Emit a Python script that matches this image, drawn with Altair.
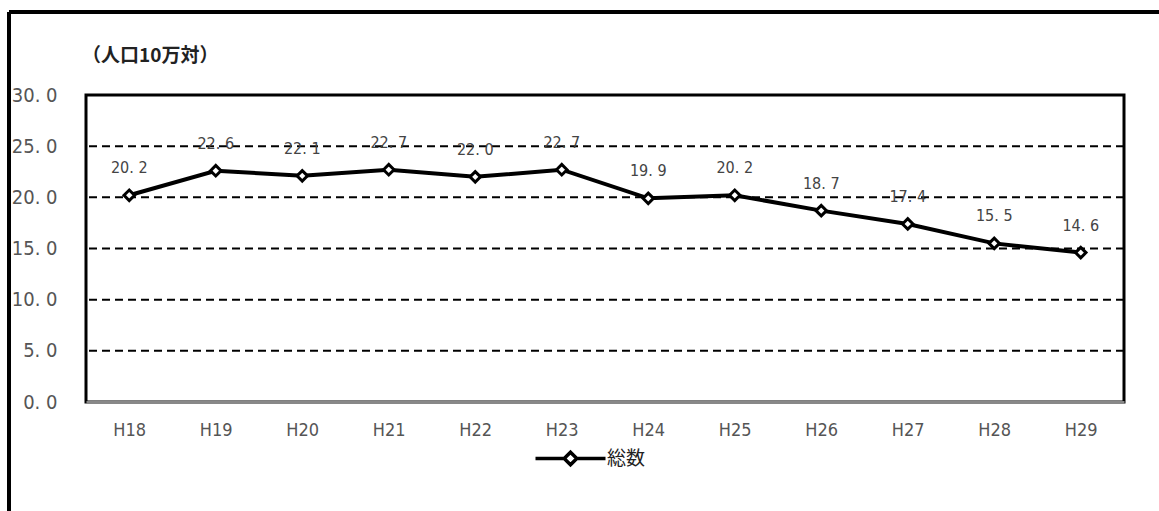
import altair as alt
import pandas as pd

years = ["H18", "H19", "H20", "H21", "H22", "H23", "H24", "H25", "H26", "H27", "H28", "H29"]
values = [20.2, 22.6, 22.1, 22.7, 22.0, 22.7, 19.9, 20.2, 18.7, 17.4, 15.5, 14.6]
series = ["総数"] * len(years)
grid_values = [5, 10, 15, 20, 25]

df = pd.DataFrame({"year": years, "value": values, "series": series})
df["label"] = df["value"].map(lambda v: f"{v:.1f}".replace(".", ". "))
grid_df = pd.DataFrame({"g": grid_values})

W, H = 1038, 307
LEFT, TOP = 86, 95
FONT = "DejaVu Sans Condensed, Roboto, sans-serif"

x_enc = alt.X("year:N", sort=years, scale=alt.Scale(paddingInner=0, paddingOuter=0.5),
              axis=alt.Axis(title=None, labelAngle=0, labelFontSize=18, labelColor="#555555",
                            labelFont=FONT, labelPadding=19, ticks=False,
                            domainColor="#888888", domainWidth=3, grid=False))
y_scale = alt.Scale(domain=[0, 30], nice=False)
y_axis = alt.Axis(title=None, values=[0, 5, 10, 15, 20, 25, 30], grid=False, ticks=False,
                  domain=False, labelFontSize=20, labelColor="#555555", labelFont=FONT,
                  labelPadding=29,
                  labelExpr="replace(format(datum.value, '.1f'), '.', '. ')")
y_enc = alt.Y("value:Q", scale=y_scale, axis=y_axis)

base = alt.Chart(df)

grid = alt.Chart(grid_df).mark_rule(color="black", strokeWidth=2, strokeDash=[8, 5]).encode(
    y=alt.Y("g:Q", scale=y_scale, axis=y_axis)
)

line = base.mark_line(color="black", strokeWidth=4).encode(
    x=x_enc, y=y_enc,
    color=alt.Color("series:N", scale=alt.Scale(range=["black"]),
                    legend=alt.Legend(title=None, orient="none", legendX=465, legendY=344,
                                      symbolType="M-2,0L-0.4,0M0.4,0L2,0M0,-0.36L0.36,0L0,0.36L-0.36,0Z",
                                      symbolSize=1225, symbolStrokeWidth=3.5, symbolFillColor="white",
                                      symbolStrokeColor="black", labelFontSize=19,
                                      labelFont="Noto Sans CJK JP", labelColor="#222222",
                                      labelOffset=17))
)

points = base.mark_point(shape="diamond", filled=True, fill="white", stroke="black",
                         strokeWidth=3, size=110, opacity=1).encode(x=x_enc, y=y_enc)

labels = base.mark_text(dy=-27, fontSize=16, color="#444444", font=FONT).encode(
    x=x_enc, y=y_enc, text="label:N"
)

frame_left = alt.Chart(df).mark_rule(color="black", strokeWidth=3).encode(
    x=alt.value(-77), y=alt.value(-83), y2=alt.value(511 - TOP)
)
frame_top = alt.Chart(df).mark_rule(color="black", strokeWidth=3).encode(
    x=alt.value(-77), x2=alt.value(1159 - LEFT), y=alt.value(-83)
)
title = alt.Chart(pd.DataFrame({"t": ["（人口10万対）"]})).mark_text(
    align="left", baseline="middle", fontSize=19, fontWeight="bold",
    font="Noto Sans CJK JP", color="#222222"
).encode(x=alt.value(-4), y=alt.value(-39), text="t:N")

chart = alt.layer(grid, frame_left, frame_top, title, line, points, labels).properties(
    width=W, height=H,
    background="white",
    autosize=alt.AutoSizeParams(type="none"),
    padding={"left": LEFT, "top": TOP, "right": 1159 - LEFT - W, "bottom": 511 - TOP - H},
).configure_view(stroke="black", strokeWidth=3)

chart.save("out.html", embed_options={"renderer": "svg", "actions": False})
